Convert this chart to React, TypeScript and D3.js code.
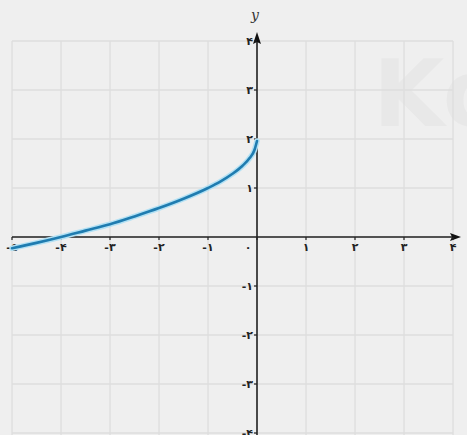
import React from "react";
import * as d3 from "d3";

const xTicks = [-5, -4, -3, -2, -1, 0, 1, 2, 3, 4];
const yTicks = [-4, -3, -2, -1, 1, 2, 3, 4];
const faDigits = ["۰", "۱", "۲", "۳", "۴", "۵", "۶", "۷", "۸", "۹"];
const curveX = [-5, -4.5, -4, -3.5, -3, -2.5, -2, -1.5, -1, -0.75, -0.5, -0.3, -0.15, -0.05, 0];
const curveY = [-0.23, -0.12, 0, 0.13, 0.26, 0.42, 0.59, 0.78, 1.0, 1.13, 1.29, 1.45, 1.61, 1.78, 1.96];

const W = 467;
const H = 435;

function fa(n: number): string {
  const s = String(Math.abs(n)).split("").map((c) => faDigits[+c]).join("");
  return n < 0 ? "-" + s : s;
}

export default function App() {
  const x = d3.scaleLinear().domain([-5, 4]).range([12, 453]);
  const y = d3.scaleLinear().domain([-4, 4]).range([433, 41]);
  const pts = curveX.map((v, i) => [v, curveY[i]] as [number, number]);
  const line = d3
    .line<[number, number]>()
    .x((d) => x(d[0]))
    .y((d) => y(d[1]))
    .curve(d3.curveMonotoneX);
  const path = line(pts) || "";
  const gridX = d3.range(-5, 5);
  const gridY = d3.range(-4, 5);
  const font = "'DejaVu Sans', sans-serif";
  return (
    <svg
      width={W}
      height={H}
      style={{ position: "absolute", left: 0, top: 0 }}
      fontFamily={font}
    >
      <rect width={W} height={H} fill="#efefef" />
      <text x={373} y={126} fontSize={92} fontWeight="bold" fill="#e8e8e8">
        Ko
      </text>
      {gridX.map((v) => (
        <line key={"gx" + v} x1={x(v)} x2={x(v)} y1={y(4)} y2={H} stroke="#dedede" strokeWidth={1.3} />
      ))}
      {gridY.map((v) => (
        <line key={"gy" + v} x1={x(-5)} x2={x(4)} y1={y(v)} y2={y(v)} stroke="#dedede" strokeWidth={1.3} />
      ))}
      <line x1={x(-5)} x2={x(4) + 2} y1={y(0)} y2={y(0)} stroke="#222" strokeWidth={1.6} />
      <path
        d={`M${x(4) + 8},${y(0)} L${x(4) - 3},${y(0) - 4} L${x(4) - 1},${y(0)} L${x(4) - 3},${y(0) + 4} Z`}
        fill="#111"
      />
      <line x1={x(0)} x2={x(0)} y1={H} y2={y(4) - 2} stroke="#222" strokeWidth={1.6} />
      <path
        d={`M${x(0)},${y(4) - 9} L${x(0) - 4},${y(4) + 3} L${x(0)},${y(4) + 1} L${x(0) + 4},${y(4) + 3} Z`}
        fill="#111"
      />
      {xTicks.map((v) => (
        <line key={"tx" + v} x1={x(v)} x2={x(v)} y1={y(0)} y2={y(0) + 3} stroke="#222" strokeWidth={1.2} />
      ))}
      {yTicks.map((v) => (
        <line key={"ty" + v} x1={x(0) - 3} x2={x(0)} y1={y(v)} y2={y(v)} stroke="#222" strokeWidth={1.2} />
      ))}
      {xTicks.map((v) => (
        <text
          key={"lx" + v}
          x={v === 0 ? x(v) - 9 : x(v)}
          y={y(0) + 14}
          fontSize={11}
          fontWeight="bold"
          fill="#222"
          textAnchor="middle"
          direction="ltr"
        >
          {fa(v)}
        </text>
      ))}
      {yTicks.map((v) => (
        <text
          key={"ly" + v}
          x={x(0) - 4}
          y={y(v) + 4}
          fontSize={11}
          fontWeight="bold"
          fill="#222"
          textAnchor="end"
          direction="ltr"
        >
          {fa(v)}
        </text>
      ))}
      <text x={x(0) - 2} y={20} fontSize={14} fontStyle="italic" fill="#333" textAnchor="middle" fontFamily="'DejaVu Serif', serif">
        y
      </text>
      <path d={path} fill="none" stroke="#b3e1f4" strokeWidth={5.5} strokeLinecap="round" />
      <path d={path} fill="none" stroke="#1f7cb0" strokeWidth={2.6} strokeLinecap="round" />
    </svg>
  );
}
